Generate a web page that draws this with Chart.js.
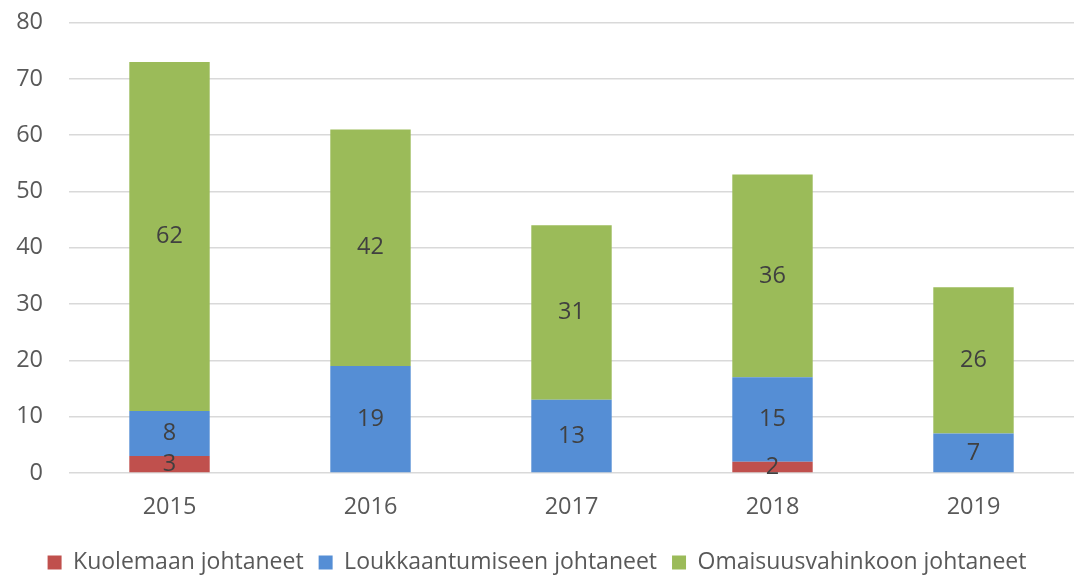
<!DOCTYPE html>
<html>
<head>
<meta charset="utf-8">
<script src="https://cdn.jsdelivr.net/npm/chart.js@4/dist/chart.umd.min.js"></script>
<style>
  html, body { margin: 0; padding: 0; background: #fff; }
  #wrap { width: 1074px; height: 576px; }
</style>
</head>
<body>
<div id="wrap"><canvas id="c"></canvas></div>
<script>
const categories = ['2015', '2016', '2017', '2018', '2019'];
const kuolemaan = [3, 0, 0, 2, 0];
const loukkaantumiseen = [8, 19, 13, 15, 7];
const omaisuusvahinkoon = [62, 42, 31, 36, 26];
const seriesNames = ['Kuolemaan johtaneet', 'Loukkaantumiseen johtaneet', 'Omaisuusvahinkoon johtaneet'];
const yTicks = [0, 10, 20, 30, 40, 50, 60, 70, 80];

const FONT = 'Open Sans';
const FS = 23.5;

const labelPlugin = {
  id: 'barLabels',
  afterDatasetsDraw(chart) {
    const ctx = chart.ctx;
    ctx.save();
    ctx.font = FS + 'px "' + FONT + '"';
    ctx.fillStyle = '#404040';
    ctx.textAlign = 'center';
    ctx.textBaseline = 'middle';
    chart.data.datasets.forEach((ds, i) => {
      const meta = chart.getDatasetMeta(i);
      meta.data.forEach((bar, j) => {
        const v = ds.data[j];
        if (!v) return;
        const p = bar.getProps(['x', 'y', 'base'], true);
        ctx.fillText(String(v), p.x, (p.y + p.base) / 2);
      });
    });
    ctx.restore();
  }
};

new Chart(document.getElementById('c'), {
  type: 'bar',
  data: {
    labels: categories,
    datasets: [
      { label: seriesNames[0], data: kuolemaan, backgroundColor: '#C0504D' },
      { label: seriesNames[1], data: loukkaantumiseen, backgroundColor: '#558ED5' },
      { label: seriesNames[2], data: omaisuusvahinkoon, backgroundColor: '#9BBB59' }
    ]
  },
  options: {
    responsive: true,
    maintainAspectRatio: false,
    animation: false,
    layout: { padding: { top: 22.5, right: 0, left: 0, bottom: -8 } },
    datasets: { bar: { barPercentage: 0.4, categoryPercentage: 1.0, borderWidth: 0 } },
    scales: {
      x: {
        stacked: true,
        grid: { display: false, drawTicks: false },
        border: { display: false },
        ticks: { color: '#595959', font: { family: FONT, size: FS }, padding: 20 },
        afterFit(s) { s.height = 63; }
      },
      y: {
        stacked: true,
        min: 0, max: 80,
        afterBuildTicks(s) { s.ticks = yTicks.map(v => ({ value: v })); },
        grid: { color: '#d9d9d9', lineWidth: 1.5, drawTicks: false },
        border: { display: false },
        ticks: { color: '#595959', font: { family: FONT, size: FS }, padding: 26 },
        afterFit(s) { s.width = 69; s.paddingTop = 0; s.paddingBottom = 0; }
      }
    },
    plugins: {
      legend: {
        position: 'bottom',
        labels: {
          color: '#595959',
          font: { family: FONT, size: 23 },
          boxWidth: 14, boxHeight: 14, padding: 15
        }
      },
      tooltip: { enabled: false }
    }
  },
  plugins: [labelPlugin]
});
</script>
</body>
</html>
